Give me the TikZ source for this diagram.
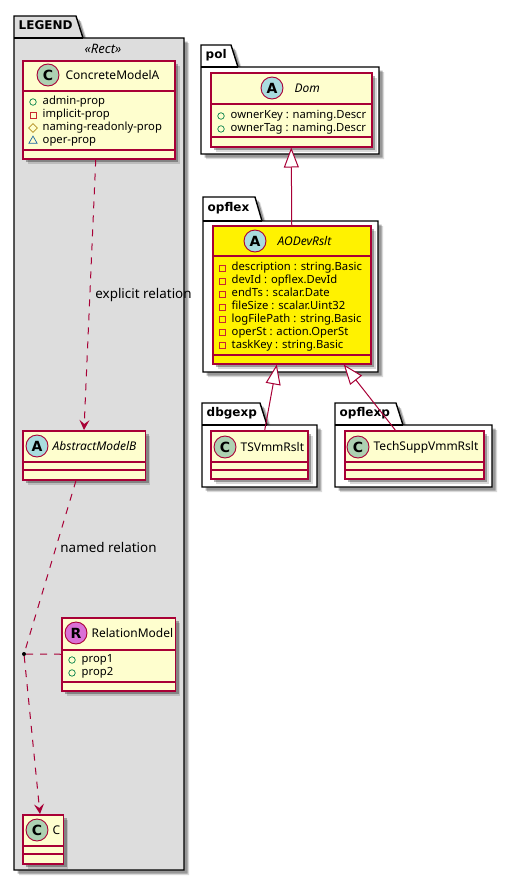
\documentclass[tikz,border=0pt]{standalone}
\usepackage{fontspec}
\setmainfont{Noto Sans}
\newfontfamily\heavyfont{DejaVu Sans}
\usetikzlibrary{positioning,arrows.meta,shadows,shapes.geometric}
\definecolor{umlred}{HTML}{A80036}
\definecolor{umlfill}{HTML}{FEFECE}
\definecolor{umlgray}{HTML}{DDDDDD}
\definecolor{spotc}{HTML}{ADD1B2}
\definecolor{spota}{HTML}{A9DCDF}
\definecolor{spotr}{HTML}{DA70D6}
\newcommand{\fs}[1]{\fontsize{#1}{#1}\selectfont}
% package outline with its tab: name, label, left, top, tab right, body top, right, bottom
\newcommand{\umlpkg}[9][white]{
  \draw[pkgline, fill=#1] (#4,#5) -- (#6,#5) -- ({#6+7},#7) -- (#8,#7) -- (#8,#9) -- (#4,#9) -- cycle;
  \draw[line width=1.4pt] (#4,#7) -- ({#6+7},#7);
  \node[pkglbl] (#2) at ({#4+4.5},{(#5+#7)/2}) {#3};
}
% class box with its two separators
\newcommand{\umlclass}[8][umlfill]{
  \node[clsbox, fill=#1, minimum width=#5pt, minimum height=#6pt] (#2) at (#3,#4) {};
  \draw[clsline] (#3,#7) -- ({#3+#5},#7);
  \draw[clsline] (#3,#8) -- ({#3+#5},#8);
}
% rows of members: owner, icon x, first y, rows
\newcommand{\members}[4]{
  \foreach \vis/\txt [count=\i] in {#4} {
    \node[\vis] (#1v\i) at (#2,{#3+(\i-1)*12.95}) {};
    \node[memtxt] (#1m\i) at ({#2+9.5},{#3+(\i-1)*12.95}) {\txt};
  }
}
\tikzset{
  pkgline/.style={line width=1.4pt, draw=black, drop shadow={shadow xshift=5pt, shadow yshift=-5pt, fill=black, opacity=.15},
    drop shadow={shadow xshift=3.5pt, shadow yshift=-3.5pt, fill=black, opacity=.3}},
  pkglbl/.style={anchor=mid west, inner sep=0pt, font=\heavyfont\fs{12}\bfseries},
  clsbox/.style={draw=umlred, line width=1.5pt, anchor=north west, inner sep=0pt,
    drop shadow={shadow xshift=5pt, shadow yshift=-5pt, fill=black, opacity=.15},
    drop shadow={shadow xshift=3.5pt, shadow yshift=-3.5pt, fill=black, opacity=.3}},
  clsline/.style={draw=umlred, line width=1.2pt},
  spot/.style={circle, draw=umlred, line width=.9pt, minimum size=22pt, inner sep=0pt, font=\heavyfont\fs{14}\bfseries},
  spotC/.style={spot, fill=spotc},
  spotA/.style={spot, fill=spota},
  clsname/.style={inner sep=0pt, font=\fs{12}},
  memtxt/.style={anchor=mid west, inner sep=0pt, font=\fs{11.25}},
  vpub/.style={circle, draw={rgb,255:red,3;green,128;blue,72}, line width=.7pt, minimum size=6.5pt, inner sep=0pt},
  vpriv/.style={rectangle, draw={rgb,255:red,200;green,41;blue,48}, line width=.7pt, minimum size=6pt, inner sep=0pt},
  vprot/.style={diamond, draw={rgb,255:red,179;green,141;blue,34}, line width=.7pt, minimum size=9pt, inner sep=0pt},
  vpkg/.style={regular polygon, regular polygon sides=3, draw={rgb,255:red,25;green,99;blue,160}, line width=.7pt, minimum size=9.5pt, inner sep=0pt},
  rel/.style={draw=umlred, line width=1pt},
  dashrel/.style={rel, dash pattern=on 7pt off 7pt},
  dep/.style={dashrel, -{Stealth[length=10pt, width=10pt, inset=4pt, fill=umlred]}},
  ext/.style={rel, {Triangle[length=20pt, width=15pt, fill=white]}-},
  lbl/.style={inner sep=0pt, font=\fs{13.4}}
}
\begin{document}
\begin{tikzpicture}[x=1pt, y=-1pt]
  \useasboundingbox (0,0) rectangle (512,881);
  % packages
  \umlpkg[umlgray]{legend}{LEGEND}{14}{16}{76}{38}{184}{870}
  \umlpkg{pol}{pol}{201}{45}{231}{67}{379}{154}
  \umlpkg{opflex}{opflex}{203}{197}{255}{221}{378}{372}
  \umlpkg{dbgexp}{dbgexp}{202}{403}{260}{425}{317}{487}
  \umlpkg{opflexp}{opflexp}{335}{403}{396}{425}{492}{487}
  \node[font=\fs{13}\itshape, inner sep=0pt] (rect) at (103,49) {«Rect»};
  % legend classes
  \umlclass{crm}{22}{60}{152}{98}{91}{150}
  \node[spotC] (crms) at (48,75) {C};
  \node[clsname, right=6pt of crms] (crmn) {ConcreteModelA};
  \members{crm}{33}{102}{vpub/admin-prop, vpriv/implicit-prop, vprot/naming-readonly-prop, vpkg/oper-prop}
  \umlclass{abm}{22}{430}{122.5}{49}{462}{470}
  \node[spotA] (abms) at (37,446) {A};
  \node[clsname, right=4pt of abms, font=\fs{12}\itshape] (abmn) {AbstractModelB};
  \umlclass{rlm}{61}{617}{113.5}{73}{650}{682}
  \node[spot, fill=spotr] (rlms) at (76,633) {R};
  \node[clsname, right=4pt of rlms] (rlmn) {RelationModel};
  \members{rlm}{72}{660}{vpub/prop1, vpub/prop2}
  \umlclass{cls}{22}{814}{40.5}{49}{846}{854}
  \node[spotC] (clss) at (37,830) {C};
  \node[clsname, right=4pt of clss] (clsn) {C};
  % right-hand classes
  \umlclass{dom}{210}{72}{161}{74}{104}{137}
  \node[spotA] (doms) at (272,88) {A};
  \node[clsname, right=11pt of doms, font=\fs{12}\itshape] (domn) {Dom};
  \members{dom}{221}{116}{vpub/ownerKey : naming.Descr, vpub/ownerTag : naming.Descr}
  \umlclass[yellow]{aod}{212}{225}{158}{138}{256}{355}
  \node[spotA] (aods) at (255,241) {A};
  \node[clsname, right=11pt of aods, font=\fs{12}\itshape] (aodn) {AODevRslt};
  \members{aod}{222}{268}{vpriv/description : string.Basic, vpriv/devId : opflex.DevId, vpriv/endTs : scalar.Date, vpriv/fileSize : scalar.Uint32, vpriv/logFilePath : string.Basic, vpriv/operSt : action.OperSt, vpriv/taskKey : string.Basic}
  \umlclass{tsv}{210}{430}{97}{48}{462}{470}
  \node[spotC] (tsvs) at (225,447) {C};
  \node[clsname, right=4pt of tsvs] (tsvn) {TSVmmRslt};
  \umlclass{tch}{344}{430}{139}{48}{462}{470}
  \node[spotC] (tchs) at (358,447) {C};
  \node[clsname, right=4pt of tchs] (tchn) {TechSuppVmmRslt};
  % relations
  \node[circle, fill=black, minimum size=4pt, inner sep=0pt] (assoc) at (24,654) {};
  \draw[dep] ([xshift=-3pt]crm.south) -- node[lbl, pos=.5, right, xshift=5pt] (expl) {explicit relation} (abm.north);
  \draw[dashrel] ([xshift=-8pt]abm.south) -- node[lbl, pos=.39, right, xshift=4pt] (named) {named relation} (assoc);
  \draw[dashrel] (assoc) -- (rlm.west);
  \draw[dep] (assoc) -- ([xshift=-3pt]cls.north);
  \draw[ext] (dom.south) -- (aod.north);
  \draw[ext] ([xshift=-15pt]aod.south) -- ([xshift=5.5pt]tsv.north);
  \draw[ext] ([xshift=52pt]aod.south) -- ([xshift=-19pt]tch.north);
\end{tikzpicture}
\end{document}
